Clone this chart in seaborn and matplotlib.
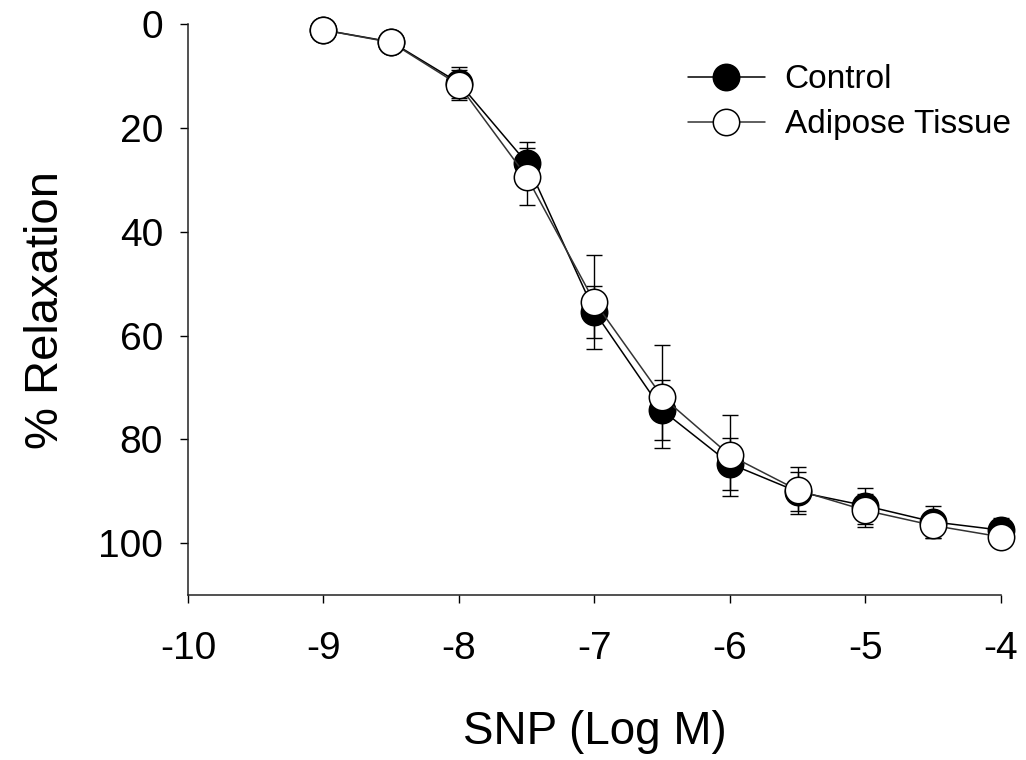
import matplotlib
matplotlib.use("Agg")
import matplotlib.pyplot as plt
import seaborn as sns
import pandas as pd

# SNP concentration (log M)
log_conc = [-9, -8.5, -8, -7.5, -7, -6.5, -6, -5.5, -5, -4.5, -4]

control_mean = [1.1, 3.4, 11.3, 26.7, 55.4, 74.4, 84.7, 90.1, 92.8, 95.9, 97.5]
control_err = [0, 0, 3.0, 4.1, 5.0, 5.8, 5.0, 3.8, 3.5, 3.1, 2.4]

adipose_mean = [1.1, 3.5, 11.7, 29.4, 53.5, 71.8, 83.1, 89.8, 93.7, 96.6, 98.8]
adipose_err = [0, 0, 2.9, 5.5, 9.1, 9.9, 7.8, 4.5, 3.1, 2.5, 2.0]

y_ticks = [0, 20, 40, 60, 80, 100]
x_ticks = [-10, -9, -8, -7, -6, -5, -4]

sns.set_style("ticks")
plt.rcParams["font.family"] = ["Liberation Sans", "DejaVu Sans"]
plt.rcParams["axes.unicode_minus"] = False
plt.rcParams["text.color"] = "black"
plt.rcParams["axes.labelcolor"] = "black"
plt.rcParams["xtick.color"] = "black"
plt.rcParams["ytick.color"] = "black"

df = pd.DataFrame({
    "logM": log_conc * 2,
    "relax": control_mean + adipose_mean,
    "err": control_err + adipose_err,
    "group": ["Control"] * len(log_conc) + ["Adipose Tissue"] * len(log_conc),
})

fig = plt.figure(figsize=(10.26, 7.6), dpi=100)
ax = fig.add_axes([0.1832, 0.2171, 0.7924, 0.751])

styles = {
    "Control": dict(line="black", face="black", z=3),
    "Adipose Tissue": dict(line="#333333", face="white", z=4),
}

for name, st in styles.items():
    sub = df[df["group"] == name]
    ax.errorbar(sub["logM"], sub["relax"], yerr=sub["err"], fmt="none",
                ecolor="black", elinewidth=1.0, capsize=6, capthick=1.0,
                zorder=1, clip_on=False)
    sns.lineplot(data=sub, x="logM", y="relax", ax=ax, color=st["line"],
                 linewidth=1.1, marker="o", markersize=19,
                 markerfacecolor=st["face"], markeredgecolor="black",
                 markeredgewidth=1.1, label=name, zorder=st["z"],
                 clip_on=False, errorbar=None)

ax.set_xlim(-10, -4)
ax.set_ylim(110, 0)
ax.set_xticks(x_ticks)
ax.set_yticks(y_ticks)
ax.tick_params(axis="both", labelsize=28, length=6, width=1.0, direction="out",
               pad=12)
ax.tick_params(axis="x", pad=20)
for side in ["left", "bottom"]:
    ax.spines[side].set_linewidth(1.1)
    ax.spines[side].set_color("#222222")
sns.despine(ax=ax)

ax.set_xlabel("SNP (Log M)", fontsize=33, labelpad=31)
ax.set_ylabel("% Relaxation", fontsize=34, labelpad=22)

ax.legend(loc="upper left", bbox_to_anchor=(0.615, 0.93), frameon=False,
          fontsize=24, handlelength=2.3, handletextpad=0.6, borderpad=0,
          borderaxespad=0, labelspacing=0.42)

fig.savefig("out.png", dpi=100)
